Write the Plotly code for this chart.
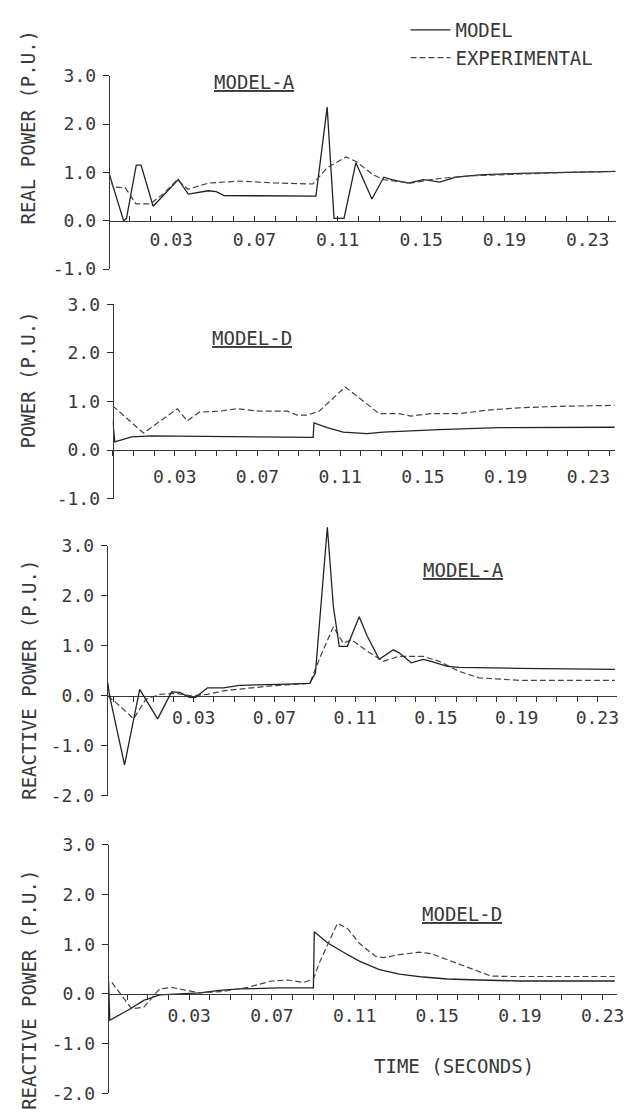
import plotly.graph_objects as go

W, H = 633, 1113
FONT = "DejaVu Sans Mono"
INK = "#383838"
TICKC = "#2a2a2a"

# ---------------- data (time in s, power in p.u.) ----------------
p1_model_t = [0.0, 0.0071, 0.0085, 0.0132, 0.0155, 0.0213, 0.0334, 0.0382, 0.0478, 0.0516, 0.0554,
              0.0995, 0.1049, 0.1082, 0.1130, 0.1187, 0.1264, 0.1321, 0.1360, 0.1437, 0.1513,
              0.1590, 0.1667, 0.1782, 0.1974, 0.2165, 0.2434]
p1_model_v = [1.0, 0.0, 0.05, 1.15, 1.15, 0.30, 0.85, 0.55, 0.62, 0.60, 0.52,
              0.51, 2.35, 0.05, 0.05, 1.20, 0.45, 0.90, 0.85, 0.78, 0.85,
              0.80, 0.90, 0.95, 0.98, 1.00, 1.02]
p1_exp_t = [0.0, 0.002, 0.008, 0.013, 0.020, 0.026, 0.033, 0.038, 0.048, 0.063, 0.080, 0.098,
            0.105, 0.114, 0.119, 0.127, 0.132, 0.145, 0.155, 0.160, 0.175, 0.200, 0.220, 0.2434]
p1_exp_v = [1.0, 0.70, 0.68, 0.35, 0.35, 0.55, 0.85, 0.65, 0.78, 0.82, 0.78, 0.76,
            1.10, 1.32, 1.22, 0.95, 0.85, 0.78, 0.85, 0.88, 0.93, 0.97, 1.00, 1.02]

p2_model_t = [0.0, 0.001, 0.0091, 0.0187, 0.0969, 0.0973, 0.1037, 0.1114, 0.1230, 0.1307,
              0.1577, 0.1867, 0.2427]
p2_model_v = [0.60, 0.17, 0.27, 0.29, 0.26, 0.56, 0.46, 0.37, 0.34, 0.37,
              0.42, 0.46, 0.47]
p2_exp_t = [0.0, 0.0149, 0.0313, 0.0360, 0.0419, 0.0515, 0.0602, 0.0708, 0.0844, 0.0892, 0.0940,
            0.0998, 0.1124, 0.1153, 0.1288, 0.1384, 0.1442, 0.1539, 0.1674, 0.1809, 0.1963,
            0.2156, 0.2427]
p2_exp_v = [0.91, 0.35, 0.85, 0.60, 0.78, 0.80, 0.85, 0.80, 0.80, 0.72, 0.72,
            0.80, 1.30, 1.20, 0.75, 0.75, 0.70, 0.75, 0.75, 0.82, 0.87,
            0.90, 0.92]

p3_model_t = [-0.0126, -0.0117, -0.0043, 0.0032, 0.0121, 0.0190, 0.0230, 0.0279, 0.0309, 0.0368,
              0.0447, 0.0527, 0.0724, 0.0875, 0.0903, 0.0962, 0.0992, 0.1021, 0.1061, 0.1120,
              0.1160, 0.1219, 0.1289, 0.1318, 0.1378, 0.1437, 0.1477, 0.1556, 0.1615, 0.1714,
              0.1912, 0.2387]
p3_model_v = [0.26, 0.0, -1.38, 0.13, -0.46, 0.08, 0.07, -0.03, -0.03, 0.16,
              0.16, 0.21, 0.23, 0.25, 0.46, 3.37, 1.78, 0.99, 0.99, 1.58,
              1.19, 0.73, 0.92, 0.86, 0.66, 0.73, 0.69, 0.59, 0.57, 0.56,
              0.55, 0.53]
p3_exp_t = [-0.0126, -0.0067, 0.0002, 0.0062, 0.0131, 0.0210, 0.0289, 0.0368, 0.0447, 0.0527,
            0.0685, 0.0875, 0.0922, 0.0992, 0.1041, 0.1081, 0.1160, 0.1239, 0.1318, 0.1437,
            0.1516, 0.1615, 0.1714, 0.1912, 0.2387]
p3_exp_v = [0.0, -0.20, -0.46, -0.07, 0.03, 0.05, 0.0, 0.03, 0.10, 0.13,
            0.20, 0.25, 0.73, 1.38, 1.05, 1.12, 0.89, 0.69, 0.79, 0.79,
            0.69, 0.49, 0.36, 0.31, 0.31]

p4_model_t = [-0.0090, -0.0084, 0.0003, 0.0080, 0.0157, 0.0254, 0.0351, 0.0447, 0.0544, 0.0737,
              0.0901, 0.0905, 0.0969, 0.1046, 0.1123, 0.1220, 0.1317, 0.1432, 0.1548, 0.1703,
              0.1896, 0.2359]
p4_model_v = [0.26, -0.53, -0.33, -0.13, -0.02, 0.0, 0.02, 0.07, 0.10, 0.12,
              0.12, 1.25, 1.03, 0.84, 0.66, 0.49, 0.40, 0.34, 0.30, 0.28,
              0.26, 0.26]
p4_exp_t = [-0.0074, 0.0022, 0.0080, 0.0157, 0.0215, 0.0254, 0.0351, 0.0466, 0.0582, 0.0698,
            0.0776, 0.0853, 0.0901, 0.0930, 0.1017, 0.1065, 0.1123, 0.1200, 0.1239, 0.1316,
            0.1413, 0.1471, 0.1548, 0.1644, 0.1760, 0.1857, 0.2359]
p4_exp_v = [0.23, -0.30, -0.27, 0.10, 0.13, 0.10, 0.02, 0.05, 0.13, 0.26,
            0.28, 0.23, 0.30, 0.63, 1.42, 1.32, 1.02, 0.76, 0.73, 0.79,
            0.84, 0.81, 0.69, 0.53, 0.36, 0.35, 0.35]

x_tickvals = [0.03, 0.07, 0.11, 0.15, 0.19, 0.23]
x_ticktext = ["0.03", "0.07", "0.11", "0.15", "0.19", "0.23"]
y_tickvals_a = [-1, 0, 1, 2, 3]
y_tickvals_b = [-2, -1, 0, 1, 2, 3]
y_ticktext_a = ["-1.0", "0.0", "1.0", "2.0", "3.0"]
y_ticktext_b = ["-2.0", "-1.0", "0.0", "1.0", "2.0", "3.0"]

series_names = ["MODEL", "EXPERIMENTAL"]
panel_labels = ["MODEL-A", "MODEL-D", "MODEL-A", "MODEL-D"]
y_titles = ["REAL POWER (P.U.)", "POWER (P.U.)", "REACTIVE POWER (P.U.)", "REACTIVE POWER (P.U.)"]
x_title = "TIME (SECONDS)"

panels = [
    dict(tm=p1_model_t, vm=p1_model_v, te=p1_exp_t, ve=p1_exp_v,
         xr=[0.0, 0.2437], yr=[-1, 3], yt=(y_tickvals_a, y_ticktext_a),
         px=(110, 623), py=(66, 263), head=0, xticks="inside", stand=3,
         title_xy=(28, 119), label_xy=(257, 72)),
    dict(tm=p2_model_t, vm=p2_model_v, te=p2_exp_t, ve=p2_exp_v,
         xr=[0.0, 0.2429], yr=[-1, 3], yt=(y_tickvals_a, y_ticktext_a),
         px=(114, 622), py=(299, 497), head=0, xticks="outside", stand=5,
         title_xy=(28, 376), label_xy=(255, 333)),
    dict(tm=p3_model_t, vm=p3_model_v, te=p3_exp_t, ve=p3_exp_v,
         xr=[-0.0126, 0.2398], yr=[-2, 3], yt=(y_tickvals_b, y_ticktext_b),
         px=(109, 624), py=(545, 800), head=25, xticks="outside", stand=0,
         title_xy=(29, 682), label_xy=(469, 570)),
    dict(tm=p4_model_t, vm=p4_model_v, te=p4_exp_t, ve=p4_exp_v,
         xr=[-0.0089, 0.2370], yr=[-2, 3], yt=(y_tickvals_b, y_ticktext_b),
         px=(110, 624), py=(850, 1103), head=0, xticks="outside", stand=0,
         title_xy=(29, 998), label_xy=(467, 920)),
]


def fx(p):
    return p / W


def fy(p):
    return 1 - p / H


TICK_FONT = dict(family=FONT, size=18, color=INK)
TEXT_FONT = dict(family=FONT, size=19, color=INK)

fig = go.Figure()
layout = dict(
    width=W, height=H,
    margin=dict(l=0, r=0, t=0, b=0),
    paper_bgcolor="white", plot_bgcolor="rgba(0,0,0,0)",
    font=TICK_FONT,
    showlegend=True,
    legend=dict(x=fx(410), y=fy(0), xanchor="left", yanchor="top",
                bgcolor="rgba(0,0,0,0)", font=TEXT_FONT,
                tracegroupgap=0, itemwidth=40),
)
annotations = []

for i, p in enumerate(panels, start=1):
    ytop_px, ybot_px = p["py"]
    ymin, ymax = p["yr"]
    # the time axis is drawn through zero power
    pos = fy(ybot_px) + (0 - ymin) / (ymax - ymin) * (fy(ytop_px) - fy(ybot_px))
    xdef = dict(
        domain=[fx(p["px"][0]), fx(p["px"][1])], range=p["xr"], anchor="free", position=pos,
        showline=True, linecolor=INK, linewidth=1.2, showgrid=False, zeroline=False,
        tickmode="array", tickvals=x_tickvals, ticktext=x_ticktext,
        ticks=p["xticks"], ticklen=5, tickcolor=TICKC, tickwidth=1.4,
        minor=dict(ticks=p["xticks"], ticklen=5, tickcolor=TICKC, tickwidth=1.4,
                   tickmode="linear", dtick=0.01, tick0=0, showgrid=False),
        tickfont=TICK_FONT, ticklabelstandoff=p["stand"])
    ydef = dict(
        domain=[fy(ybot_px), fy(ytop_px)], range=p["yr"],
        showline=True, linecolor=INK, linewidth=1.2, showgrid=False, zeroline=False,
        tickmode="array", tickvals=p["yt"][0], ticktext=p["yt"][1],
        ticks="outside", ticklen=6, tickcolor=TICKC, tickwidth=1.4,
        tickfont=TICK_FONT, ticklabelstandoff=3)
    if i in (1, 2):
        ydef["anchor"] = "free"
        ydef["position"] = fx(p["px"][0])
    else:
        ydef["anchor"] = "x%d" % i
        ydef["minor"] = dict(ticks="outside", ticklen=6, tickcolor=TICKC, tickwidth=1.4,
                             tickmode="linear", dtick=1, tick0=0, showgrid=False)
    fig.update_layout({"xaxis%d" % i: xdef, "yaxis%d" % i: ydef})
    ymodel = "y%d" % i
    if p["head"] > 0:
        # same-scale companion axis with head-room so the tall model peak is not clipped
        j = i + 4
        ppu = (ybot_px - ytop_px) / (ymax - ymin)
        fig.update_layout({"yaxis%d" % j: dict(
            domain=[fy(ybot_px), fy(ytop_px - p["head"])],
            range=[ymin, ymax + p["head"] / ppu], anchor="x%d" % i,
            visible=False, showgrid=False, zeroline=False)})
        ymodel = "y%d" % j

    fig.add_trace(go.Scatter(
        x=p["tm"], y=p["vm"], mode="lines", name=series_names[0],
        line=dict(color="#222222", width=1.3),
        xaxis="x%d" % i, yaxis=ymodel, showlegend=(i == 1), legendgroup="m"))
    fig.add_trace(go.Scatter(
        x=p["te"], y=p["ve"], mode="lines", name=series_names[1],
        line=dict(color="#444444", width=1.2, dash="6px,3px"),
        xaxis="x%d" % i, yaxis="y%d" % i, showlegend=(i == 1), legendgroup="e"))

    tx, ty = p["title_xy"]
    annotations.append(dict(text=y_titles[i - 1], x=fx(tx), y=fy(ty), xref="paper", yref="paper",
                            textangle=-90, showarrow=False, xanchor="center", yanchor="middle",
                            font=TEXT_FONT))
    lx, ly = p["label_xy"]
    annotations.append(dict(text=panel_labels[i - 1], x=fx(lx), y=fy(ly), xref="paper", yref="paper",
                            showarrow=False, xanchor="center", yanchor="middle",
                            font=dict(family=FONT, size=19, color=INK, lineposition="under")))

annotations.append(dict(text=x_title, x=fx(459), y=fy(1075), xref="paper", yref="paper",
                        showarrow=False, xanchor="center", yanchor="middle",
                        font=TEXT_FONT))
fig.update_layout(annotations=annotations, **layout)

fig.write_html("out.html", config={"displayModeBar": False},
               post_script="document.body.style.margin='0';document.body.style.overflow='hidden';")
